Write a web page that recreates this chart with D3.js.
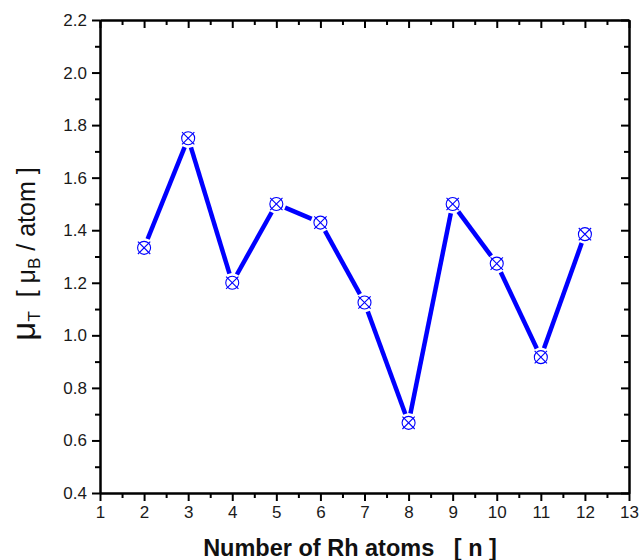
<!DOCTYPE html>
<html lang="en">
<head>
<meta charset="UTF-8">
<style>
    body { margin: 0; padding: 0; background: #ffffff; }
    svg { display: block; font-family: 'Liberation Sans', Arial, sans-serif; }
    .axis path, .axis line { stroke: #000; stroke-width: 2px; }
    .axis text { font-size: 17px; fill: #1a1a1a; font-family: 'Liberation Sans', Arial, sans-serif; }
</style>
</head>
<body>
<div id="chart"></div>
<script src="https://d3js.org/d3.v7.min.js"></script>
<script>
    // data
    const atoms = [2, 3, 4, 5, 6, 7, 8, 9, 10, 11, 12];
    const moment = [1.333, 1.75, 1.2, 1.5, 1.429, 1.125, 0.667, 1.5, 1.273, 0.917, 1.385];
    const xTicks = [1, 2, 3, 4, 5, 6, 7, 8, 9, 10, 11, 12, 13];
    const yTicks = [0.4, 0.6, 0.8, 1.0, 1.2, 1.4, 1.6, 1.8, 2.0, 2.2];

    const width = 641, height = 560;
    const margin = { left: 100, right: 12, top: 20, bottom: 67 };

    const svg = d3.select('#chart').append('svg')
        .attr('width', width)
        .attr('height', height);

    const x = d3.scaleLinear().domain([1, 13]).range([margin.left, width - margin.right]);
    const y = d3.scaleLinear().domain([0.4, 2.2]).range([height - margin.bottom, margin.top]);

    const xMinor = d3.range(1.5, 13, 1);
    const yMinor = d3.range(0.5, 2.2, 0.2);

    // bottom axis
    svg.append('g').attr('class', 'axis')
        .attr('transform', `translate(0,${y(0.4)})`)
        .call(d3.axisBottom(x).tickValues(xTicks).tickFormat(d3.format('d')).tickSize(8).tickSizeOuter(0).tickPadding(5));
    svg.append('g').attr('class', 'axis')
        .attr('transform', `translate(0,${y(0.4)})`)
        .call(d3.axisBottom(x).tickValues(xMinor).tickFormat('').tickSize(5).tickSizeOuter(0));

    // top axis, ticks inside
    svg.append('g').attr('class', 'axis')
        .attr('transform', `translate(0,${y(2.2)})`)
        .call(d3.axisBottom(x).tickValues(xTicks).tickFormat('').tickSize(8).tickSizeOuter(0));
    svg.append('g').attr('class', 'axis')
        .attr('transform', `translate(0,${y(2.2)})`)
        .call(d3.axisBottom(x).tickValues(xMinor).tickFormat('').tickSize(5).tickSizeOuter(0));

    // left axis
    svg.append('g').attr('class', 'axis')
        .attr('transform', `translate(${x(1)},0)`)
        .call(d3.axisLeft(y).tickValues(yTicks).tickFormat(d3.format('.1f')).tickSize(8).tickSizeOuter(0).tickPadding(5));
    svg.append('g').attr('class', 'axis')
        .attr('transform', `translate(${x(1)},0)`)
        .call(d3.axisLeft(y).tickValues(yMinor).tickFormat('').tickSize(5).tickSizeOuter(0));

    // right axis, ticks inside
    svg.append('g').attr('class', 'axis')
        .attr('transform', `translate(${x(13)},0)`)
        .call(d3.axisLeft(y).tickValues(yTicks).tickFormat('').tickSize(8).tickSizeOuter(0));
    svg.append('g').attr('class', 'axis')
        .attr('transform', `translate(${x(13)},0)`)
        .call(d3.axisLeft(y).tickValues(yMinor).tickFormat('').tickSize(5).tickSizeOuter(0));

    // line segments, stopped short of the markers
    const pts = atoms.map((a, i) => [x(a), y(moment[i])]);
    const r = 6.5, gap = 9.5;
    for (let i = 0; i < pts.length - 1; i++) {
        const [x0, y0] = pts[i], [x1, y1] = pts[i + 1];
        const len = Math.hypot(x1 - x0, y1 - y0);
        const ux = (x1 - x0) / len, uy = (y1 - y0) / len;
        svg.append('line')
            .attr('x1', x0 + ux * gap).attr('y1', y0 + uy * gap)
            .attr('x2', x1 - ux * gap).attr('y2', y1 - uy * gap)
            .attr('stroke', '#0000ff')
            .attr('stroke-width', 4.5);
    }

    // circle-with-cross markers
    const mk = svg.selectAll('.mk')
        .data(atoms.map((a, i) => ({ n: a, v: moment[i] })))
        .enter().append('g')
        .attr('class', 'mk')
        .attr('transform', d => `translate(${x(d.n)},${y(d.v)})`)
        .attr('stroke', '#0000ff')
        .attr('stroke-width', 1.1)
        .attr('fill', 'none');
    mk.append('circle').attr('r', r);
    const k = r * 0.95;
    mk.append('line').attr('x1', -k).attr('y1', -k).attr('x2', k).attr('y2', k);
    mk.append('line').attr('x1', -k).attr('y1', k).attr('x2', k).attr('y2', -k);

    // axis titles
    svg.append('text')
        .attr('x', 350).attr('y', 556)
        .attr('text-anchor', 'middle')
        .attr('font-size', 23.5)
        .attr('font-weight', 'bold')
        .attr('fill', '#111')
        .attr('xml:space', 'preserve')
        .text('Number of Rh atoms   [ n ]');

    const yt = svg.append('text')
        .attr('transform', `translate(35,254) rotate(-90)`)
        .attr('text-anchor', 'middle')
        .attr('font-size', 25)
        .attr('fill', '#111')
        .attr('xml:space', 'preserve');
    yt.append('tspan').attr('font-size', 33).text('\u03bc');
    yt.append('tspan').attr('font-size', 17).attr('dy', 5).text('T');
    yt.append('tspan').attr('dy', -5).text('  [ \u03bc');
    yt.append('tspan').attr('font-size', 17).attr('dy', 5).text('B');
    yt.append('tspan').attr('dy', -5).text(' / atom ]');
</script>
</body>
</html>
